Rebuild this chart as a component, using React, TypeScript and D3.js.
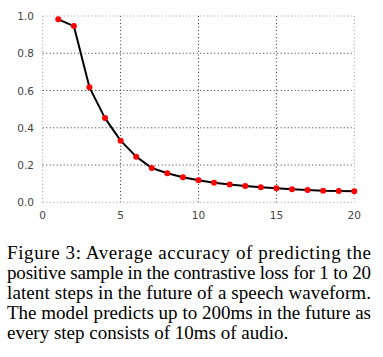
import React from "react";
import * as d3 from "d3";

const steps = [1,2,3,4,5,6,7,8,9,10,11,12,13,14,15,16,17,18,19,20];
const accuracy = [0.982,0.946,0.617,0.452,0.331,0.245,0.184,0.156,0.134,0.118,0.105,0.095,0.088,0.081,0.075,0.070,0.066,0.062,0.060,0.059];
const xTicks = [0,5,10,15,20];
const yTicks = [0,0.2,0.4,0.6,0.8,1.0];
const captionLines = [
  "Figure 3:  Average accuracy of predicting the",
  "positive sample in the contrastive loss for 1 to 20",
  "latent steps in the future of a speech waveform.",
  "The model predicts up to 200ms in the future as",
  "every step consists of 10ms of audio.",
];

const serif = "'Liberation Serif', 'Times New Roman', Times, serif";

export default function App() {
  const W = 383, H = 357;
  const x = d3.scaleLinear().domain([0, 20]).range([42.7, 354.3]);
  const y = d3.scaleLinear().domain([0, 1]).range([202.3, 16]);
  const line = d3.line<number>().x((_, i) => x(steps[i])).y((d) => y(d));
  const pts = accuracy;
  return (
    <svg width={W} height={H} style={{ position: "absolute", left: 0, top: 0, background: "#fff" }}>
      <rect width={W} height={H} fill="#fff" />
      {xTicks.map((t) => {
        const border = t === 0 || t === 20;
        return (
          <line key={"gx" + t} x1={x(t)} x2={x(t)} y1={y(1)} y2={y(0)}
            stroke={border ? "#999" : "#333"} strokeWidth={1} strokeDasharray="1,2.5" />
        );
      })}
      {yTicks.map((t) => {
        const border = t === 0 || t === 1;
        return (
          <line key={"gy" + t} x1={x(0)} x2={x(20)} y1={y(t)} y2={y(t)}
            stroke={border ? "#999" : "#333"} strokeWidth={1} strokeDasharray="1,2.5" />
        );
      })}
      {yTicks.map((t) => (
        <text key={"ty" + t} x={34} y={y(t) + 4} textAnchor="end" fontFamily="DejaVu Sans" fontSize={10.5} fill="#444">
          {d3.format(".1f")(t)}
        </text>
      ))}
      {xTicks.map((t) => (
        <text key={"tx" + t} x={x(t)} y={219} textAnchor="middle" fontFamily="DejaVu Sans" fontSize={10.5} fill="#444">
          {t}
        </text>
      ))}
      <path d={line(pts) || ""} fill="none" stroke="#000" strokeWidth={2} strokeLinejoin="round" />
      {pts.map((v, i) => (
        <circle key={"p" + i} cx={x(steps[i])} cy={y(v)} r={3} fill="#ff0000" />
      ))}
      {captionLines.map((s, i) => (
        <text key={"c" + i} x={7} y={259 + i * 20} style={{ fontFamily: serif, fontSize: "19px" }} fill="#000"
          {...(i < 4 ? { textLength: 364, lengthAdjust: "spacing" } : {})}>
          {s}
        </text>
      ))}
    </svg>
  );
}
